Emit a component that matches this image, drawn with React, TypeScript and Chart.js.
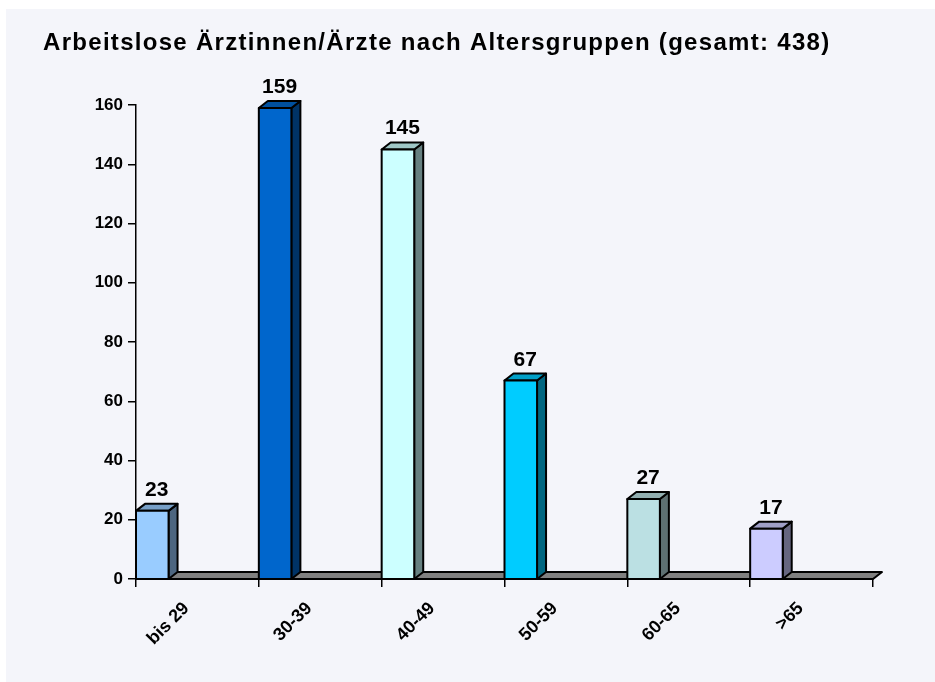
import React, { useEffect, useRef } from "react";
import { Chart, registerables } from "chart.js";

Chart.register(...registerables);

const TITLE = "Arbeitslose Ärztinnen/Ärzte nach Altersgruppen (gesamt: 438)";
const categories = ["bis 29", "30-39", "40-49", "50-59", "60-65", ">65"];
const values = [23, 159, 145, 67, 27, 17];
const frontColors = ["#99CCFF", "#0066CC", "#CCFFFF", "#00CCFF", "#BBE0E3", "#CCCCFF"];
const Y_MIN = 0;
const Y_MAX = 160;
const Y_STEP = 20;

const FONT = '"Liberation Sans", Arial, Helvetica, sans-serif';

function shade(hex: string, f: number): string {
  const h = hex.replace("#", "");
  const r = Math.round(parseInt(h.slice(0, 2), 16) * f);
  const g = Math.round(parseInt(h.slice(2, 4), 16) * f);
  const b = Math.round(parseInt(h.slice(4, 6), 16) * f);
  return `rgb(${r},${g},${b})`;
}

const backgroundPlugin = {
  id: "bgPanel",
  beforeDraw(chart: any) {
    const { ctx, width, height } = chart;
    ctx.save();
    ctx.fillStyle = "#ffffff";
    ctx.fillRect(0, 0, width, height);
    ctx.fillStyle = "#F4F5FA";
    ctx.fillRect(6, 9, width - 6, height - 9);
    ctx.fillStyle = "#000000";
    ctx.font = `bold 24px ${FONT}`;
    ctx.textAlign = "left";
    ctx.textBaseline = "alphabetic";
    (ctx as any).letterSpacing = "1.3px";
    ctx.fillText(TITLE, 43, 50);
    (ctx as any).letterSpacing = "0px";
    ctx.restore();
  },
};

const bar3dPlugin = {
  id: "bar3d",
  afterDatasetsDraw(chart: any) {
    const { ctx } = chart;
    const x = chart.scales.x;
    const y = chart.scales.y;
    const n = categories.length;
    const slot = x.getPixelForValue(1) - x.getPixelForValue(0);
    const dx = 9;
    const dy = 7;
    const w = slot * 0.265;
    const y0 = y.getPixelForValue(0);

    const poly = (pts: number[][], fill: string) => {
      ctx.beginPath();
      ctx.moveTo(pts[0][0], pts[0][1]);
      for (let k = 1; k < pts.length; k++) ctx.lineTo(pts[k][0], pts[k][1]);
      ctx.closePath();
      ctx.fillStyle = fill;
      ctx.fill();
      ctx.stroke();
    };

    ctx.save();
    ctx.lineWidth = 2;
    ctx.strokeStyle = "#000000";
    ctx.lineJoin = "round";

    const fl = x.getPixelForValue(0) - slot / 2;
    const fr = x.getPixelForValue(n - 1) + slot / 2;
    poly(
      [
        [fl, y0],
        [fr, y0],
        [fr + dx, y0 - dy],
        [fl + dx, y0 - dy],
      ],
      "#808080"
    );

    values.forEach((v, i) => {
      const c = frontColors[i];
      const left = x.getPixelForValue(i) - slot / 2;
      const right = left + w;
      const top = y.getPixelForValue(v);
      poly(
        [
          [right, y0],
          [right, top],
          [right + dx, top - dy],
          [right + dx, y0 - dy],
        ],
        shade(c, 0.5)
      );
      poly(
        [
          [left, top],
          [right, top],
          [right + dx, top - dy],
          [left + dx, top - dy],
        ],
        shade(c, 0.78)
      );
      poly(
        [
          [left, y0],
          [left, top],
          [right, top],
          [right, y0],
        ],
        c
      );
      ctx.fillStyle = "#000000";
      ctx.font = `bold 21px ${FONT}`;
      ctx.textAlign = "center";
      ctx.textBaseline = "alphabetic";
      ctx.fillText(String(v), left + w / 2 + dx / 2, top - 15);
    });
    ctx.restore();
  },
};

export default function App() {
  const ref = useRef<HTMLCanvasElement | null>(null);

  useEffect(() => {
    if (!ref.current) return;
    const chart = new Chart(ref.current, {
      type: "bar",
      data: {
        labels: categories,
        datasets: [
          {
            data: values,
            backgroundColor: "rgba(0,0,0,0)",
            borderWidth: 0,
          },
        ],
      },
      options: {
        responsive: false,
        animation: false,
        devicePixelRatio: 1,
        layout: { padding: { top: 105, left: 0, right: 62, bottom: 0 } },
        plugins: {
          legend: { display: false },
          title: { display: false },
          tooltip: { enabled: false },
        },
        scales: {
          x: {
            type: "category",
            offset: true,
            border: { display: false },
            grid: {
              offset: true,
              drawOnChartArea: false,
              drawTicks: true,
              tickLength: 8,
              color: "#000000",
              lineWidth: 1.5,
            },
            ticks: {
              color: "#000000",
              font: { family: FONT, size: 18, weight: "bold" },
              minRotation: 45,
              maxRotation: 45,
              autoSkip: false,
              padding: 11,
              labelOffset: -11,
            },
            afterFit: (scale: any) => {
              scale.height = 682 - 579;
            },
          },
          y: {
            min: Y_MIN,
            max: Y_MAX,
            border: { display: true, color: "#000000", width: 1.5 },
            grid: {
              drawOnChartArea: false,
              drawTicks: true,
              tickLength: 8,
              color: "#000000",
              lineWidth: 1.5,
            },
            ticks: {
              stepSize: Y_STEP,
              color: "#000000",
              font: { family: FONT, size: 17, weight: "bold" },
              padding: 5,
            },
            afterFit: (scale: any) => {
              scale.width = 136;
            },
          },
        },
      },
      plugins: [backgroundPlugin, bar3dPlugin],
    } as any);
    return () => chart.destroy();
  }, []);

  return (
    <div style={{ position: "absolute", left: 0, top: 0, width: 935, height: 682 }}>
      <canvas ref={ref} width={935} height={682} style={{ display: "block" }} />
    </div>
  );
}
